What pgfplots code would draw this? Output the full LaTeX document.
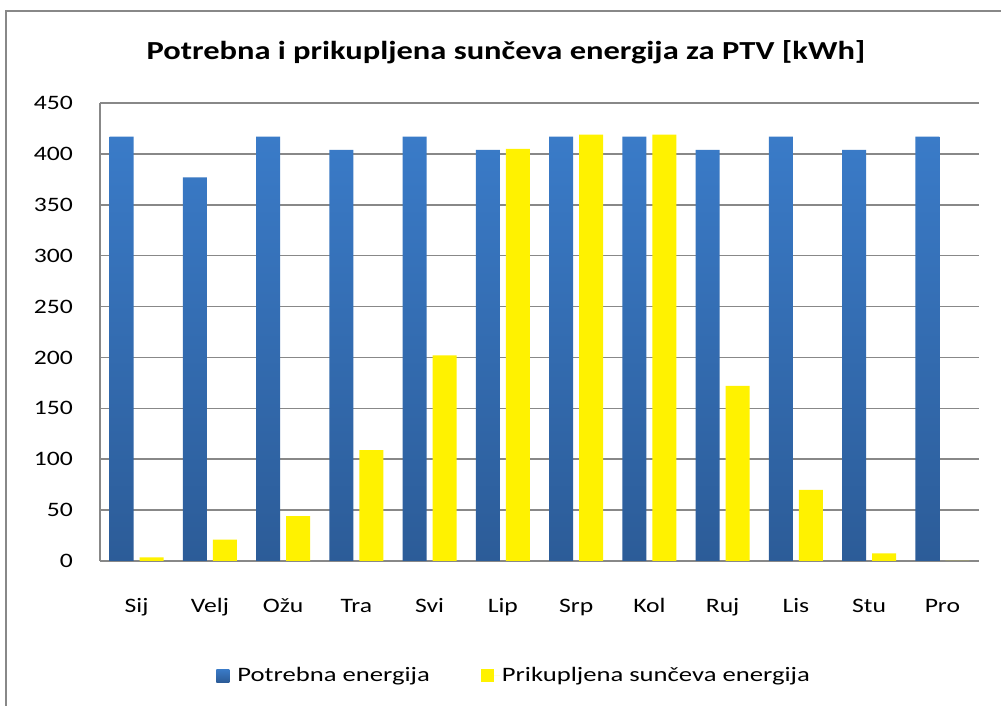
\documentclass[border=0pt]{standalone}
\usepackage{fontspec}
\setmainfont{Carlito}[FakeStretch=1.25]
\newfontfamily\legfont{Carlito}[FakeStretch=1.3]
\usepackage{pgfplots}
\pgfplotsset{compat=1.18}
\definecolor{bluetop}{HTML}{3A7BC8}
\definecolor{bluebot}{HTML}{2C5C98}
\definecolor{gridc}{HTML}{888888}
\begin{document}
\begin{tikzpicture}
\useasboundingbox (0pt,0pt) rectangle (1001pt,706pt);
\fill[white] (0pt,0pt) rectangle (1001pt,706pt);
\draw[gridc, line width=2pt] (6pt,-20pt) -- (6pt,695pt) -- (1030pt,695pt);
\node[font=\fontsize{26}{30}\selectfont\bfseries, anchor=base, inner sep=0pt] at (506pt,646pt) {Potrebna i prikupljena sunčeva energija za PTV [kWh]};
\begin{axis}[
  at={(100pt,145pt)}, anchor=south west, scale only axis,
  width=879pt, height=458pt,
  xmin=-0.5, xmax=11.5, ymin=0, ymax=450,
  ytick={0,50,...,450},
  xtick={0,...,11},
  xticklabels={Sij,Velj,Ožu,Tra,Svi,Lip,Srp,Kol,Ruj,Lis,Stu,Pro},
  axis lines=left,
  axis line style={-, gridc, line width=1.6pt},
  ymajorgrids, grid style={gridc, line width=1.6pt},
  major tick length=0pt, tick style={draw=none},
  /pgf/number format/assume math mode=true,
  ticklabel style={font=\fontsize{20.5}{24}\selectfont},
  yticklabel style={anchor=east, inner sep=0pt, xshift=-27pt},
  xticklabel style={anchor=base, inner sep=0pt, yshift=-52pt},
  legend columns=2,
  legend style={at={(0.4711,-0.249)}, anchor=center, draw=none, fill=none,
    font=\legfont\fontsize{20.5}{24}\selectfont,
    /tikz/every even column/.append style={column sep=49pt}},
  legend image code/.code={\path[#1, draw=none] (0pt,-7pt) rectangle (13pt,6pt);\path (0pt,0pt) -- (19pt,0pt);},
  clip=false,
]
\addplot[ybar, bar width=24pt, bar shift=-15pt, draw=none, top color=bluetop, bottom color=bluebot]
  coordinates {(0,417) (1,377) (2,417) (3,404) (4,417) (5,404) (6,417) (7,417) (8,404) (9,417) (10,404) (11,417)};
\addlegendentry{Potrebna energija}
\addplot[ybar, bar width=24pt, bar shift=15pt, draw=none, fill=yellow]
  coordinates {(0,3.5) (1,21) (2,44) (3,109) (4,202) (5,405) (6,419) (7,419) (8,172) (9,70) (10,7.5) (11,0)};
\addlegendentry{Prikupljena sunčeva energija}
\end{axis}
\end{tikzpicture}
\end{document}
